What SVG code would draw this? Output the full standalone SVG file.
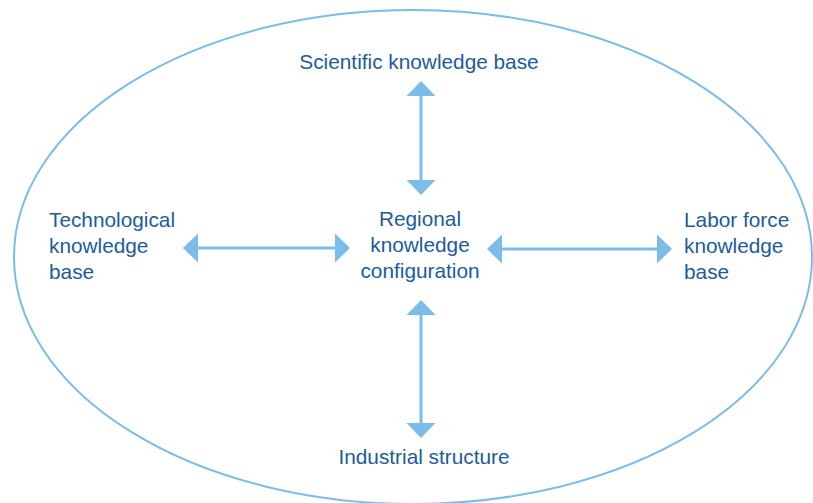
<svg xmlns="http://www.w3.org/2000/svg" width="813" height="503" viewBox="0 0 813 503">
<style>
.t{font-family:"Liberation Sans",Arial,sans-serif;font-size:20.8px;fill:#215c98}
.c{text-anchor:middle}
.ln{stroke:#7bbde8;stroke-width:3;fill:none}
.hd{fill:#7bbde8}
</style>
<rect width="813" height="503" fill="#fff"/>
<ellipse cx="413" cy="257" rx="399" ry="247" fill="none" stroke="#7bbde8" stroke-width="2"/>
<g id="connectors">
<g id="c-top"><line class="ln" x1="421" y1="94" x2="421" y2="182"/><polygon class="hd" points="421,81 435.5,96 406.5,96"/><polygon class="hd" points="421,195 435.5,180 406.5,180"/></g>
<g id="c-bottom"><line class="ln" x1="421" y1="313" x2="421" y2="425"/><polygon class="hd" points="421,300 435.5,315 406.5,315"/><polygon class="hd" points="421,438 435.5,423 406.5,423"/></g>
<g id="c-left"><line class="ln" x1="196" y1="248" x2="337" y2="248"/><polygon class="hd" points="183,248 198,233.5 198,262.5"/><polygon class="hd" points="350,248 335,233.5 335,262.5"/></g>
<g id="c-right"><line class="ln" x1="500" y1="249" x2="659" y2="249"/><polygon class="hd" points="487,249 502,234.5 502,263.5"/><polygon class="hd" points="672,249 657,234.5 657,263.5"/></g>
</g>
<g id="n-scientific"><text class="t c" x="419" y="69">Scientific knowledge base</text></g>
<g id="n-technological"><text class="t" x="49" y="227">Technological</text><text class="t" x="49" y="253">knowledge</text><text class="t" x="49" y="279">base</text></g>
<g id="n-regional"><text class="t c" x="420" y="226">Regional</text><text class="t c" x="420" y="252">knowledge</text><text class="t c" x="420" y="278">configuration</text></g>
<g id="n-labor"><text class="t" x="684" y="227">Labor force</text><text class="t" x="684" y="253">knowledge</text><text class="t" x="684" y="279">base</text></g>
<g id="n-industrial"><text class="t c" x="424" y="464">Industrial structure</text></g>
</svg>
